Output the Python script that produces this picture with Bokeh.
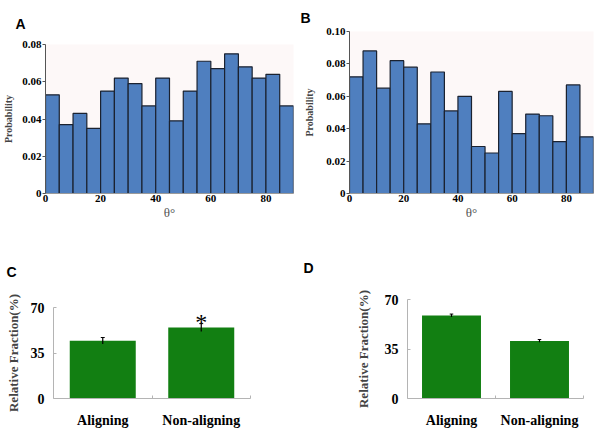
from bokeh.plotting import figure
from bokeh.layouts import column, row
from bokeh.models import Range1d, FixedTicker, Label
from bokeh.embed import file_html
from bokeh.resources import INLINE

# ---------------- data ----------------
bin_left = [0, 5, 10, 15, 20, 25, 30, 35, 40, 45, 50, 55, 60, 65, 70, 75, 80, 85]
bin_width = 5
prob_a = [0.053, 0.037, 0.043, 0.035, 0.055, 0.062, 0.059, 0.047, 0.062,
          0.039, 0.055, 0.071, 0.067, 0.075, 0.068, 0.062, 0.064, 0.047]
prob_b = [0.072, 0.088, 0.065, 0.082, 0.078, 0.043, 0.075, 0.051, 0.060,
          0.029, 0.025, 0.063, 0.037, 0.049, 0.048, 0.032, 0.067, 0.035]
hist_xticks = [0, 20, 40, 60, 80]
yticks_a = [0, 0.02, 0.04, 0.06, 0.08]
yticks_b = [0, 0.02, 0.04, 0.06, 0.08, 0.10]

categories = ["Aligning", "Non-aligning"]
cat_pos = [0.5, 1.5]
frac_c = [44.4, 54.6]
err_c = [2.5, 3.0]
frac_d = [58.7, 40.7]
err_d = [1.0, 1.0]
frac_ticks = [0, 35, 70]

SERIF = "Liberation Serif"
SANS = "Liberation Sans"
BLUE = "#4f7fbf"
GREEN = "#127f12"


def panel_letter(p, text, offset, standoff):
    p.title.text = text
    p.title.align = "left"
    p.title.offset = offset
    p.title.standoff = standoff
    p.title.text_font = SANS
    p.title.text_font_style = "bold"
    p.title.text_font_size = "14px"
    p.title.text_color = "black"


def hist_fig(vals, ymax, yticks, width, height, bl, br, bt, bb, lab_standoff):
    p = figure(width=width, height=height, x_range=Range1d(0, 90), y_range=Range1d(0, ymax),
               output_backend="svg", toolbar_location=None,
               min_border_left=bl, min_border_right=br, min_border_top=bt, min_border_bottom=bb)
    p.quad(left=bin_left, right=[v + bin_width for v in bin_left], bottom=0, top=vals,
           fill_color=BLUE, line_color="#1b2230", line_width=1.2)
    p.grid.visible = False
    p.outline_line_color = None
    p.background_fill_color = "#fdf8f8"
    p.xaxis.ticker = FixedTicker(ticks=hist_xticks)
    p.yaxis.ticker = FixedTicker(ticks=yticks)
    p.yaxis.major_label_overrides = {t: ("0" if t == 0 else f"{t:.2f}") for t in yticks}
    for ax in (p.xaxis, p.yaxis):
        ax.major_label_text_font = SERIF
        ax.major_label_text_font_style = "bold"
        ax.major_label_text_font_size = "11px"
        ax.major_label_text_color = "black"
        ax.minor_tick_line_color = None
    p.xaxis.axis_line_color = "#9a9a9a"
    p.xaxis.major_tick_line_color = None
    p.xaxis.major_tick_out = 0
    p.xaxis.major_label_standoff = 1
    p.xaxis.axis_label = "θ°"
    p.xaxis.axis_label_text_font = SERIF
    p.xaxis.axis_label_text_font_style = "normal"
    p.xaxis.axis_label_text_font_size = "13px"
    p.xaxis.axis_label_text_color = "#555555"
    p.xaxis.axis_label_standoff = 0
    p.yaxis.axis_line_color = "#555555"
    p.yaxis.major_tick_line_color = "#555555"
    p.yaxis.major_tick_out = 3
    p.yaxis.major_tick_in = 0
    p.yaxis.major_label_standoff = 1
    p.yaxis.axis_label = "Probability"
    p.yaxis.axis_label_text_font = SERIF
    p.yaxis.axis_label_text_font_style = "bold"
    p.yaxis.axis_label_text_font_size = "10px"
    p.yaxis.axis_label_standoff = lab_standoff
    return p


def bar_fig(vals, errs, width, height, bl, br, bt, bb, lab_standoff):
    p = figure(width=width, height=height, x_range=Range1d(0, 2), y_range=Range1d(0, 70),
               output_backend="svg", toolbar_location=None,
               min_border_left=bl, min_border_right=br, min_border_top=bt, min_border_bottom=bb)
    p.vbar(x=cat_pos, top=vals, width=0.67, bottom=0, fill_color=GREEN, line_color=None)
    lo = [v - e for v, e in zip(vals, errs)]
    hi = [v + e for v, e in zip(vals, errs)]
    p.segment(x0=cat_pos, x1=cat_pos, y0=lo, y1=hi, line_color="black", line_width=1.2)
    p.segment(x0=[x - 0.02 for x in cat_pos], x1=[x + 0.02 for x in cat_pos], y0=hi, y1=hi,
              line_color="black", line_width=1)
    p.grid.visible = False
    p.outline_line_color = None
    p.xaxis.ticker = FixedTicker(ticks=cat_pos, minor_ticks=[1.0, 2.0])
    p.xaxis.major_label_overrides = {cat_pos[i]: categories[i] for i in range(len(categories))}
    p.yaxis.ticker = FixedTicker(ticks=frac_ticks)
    for ax in (p.xaxis, p.yaxis):
        ax.axis_line_color = "#b4b4b4"
        ax.major_label_text_font = SERIF
        ax.major_label_text_font_style = "bold"
        ax.major_label_text_font_size = "14px"
        ax.major_label_text_color = "black"
    p.xaxis.major_tick_line_color = None
    p.xaxis.minor_tick_line_color = "#b4b4b4"
    p.xaxis.minor_tick_in = 3
    p.xaxis.minor_tick_out = 0
    p.xaxis.major_label_standoff = 8
    p.yaxis.minor_tick_line_color = None
    p.yaxis.major_tick_line_color = "#b4b4b4"
    p.yaxis.major_tick_in = 3
    p.yaxis.major_tick_out = 0
    p.yaxis.major_label_standoff = 9
    p.yaxis.axis_label = "Relative Fraction(%)"
    p.yaxis.axis_label_text_font = SERIF
    p.yaxis.axis_label_text_font_style = "bold"
    p.yaxis.axis_label_text_font_size = "13px"
    p.yaxis.axis_label_standoff = lab_standoff
    return p


TOP_H = 231
BOT_H = 199

pA = hist_fig(prob_a, 0.08, yticks_a, 300, TOP_H, 45, 7, 44, TOP_H - 193, 5)
panel_letter(pA, "A", -30, 25)

pB = hist_fig(prob_b, 0.10, yticks_b, 300, TOP_H, 49, 7, 31, TOP_H - 193, 8)
panel_letter(pB, "B", -49, 11)

pC = bar_fig(frac_c, err_c, 300, BOT_H, 53, 50, 307 - TOP_H, TOP_H + BOT_H - 399, 7)
panel_letter(pC, "C", -47, 56)
pC.add_layout(Label(x=cat_pos[1], y=frac_c[1] + err_c[1] + 11.6, text="*", text_font=SERIF,
                    text_font_size="24px", text_align="center", text_baseline="top",
                    text_color="black"))

pD = bar_fig(frac_d, err_d, 300, BOT_H, 107, 17, 299 - TOP_H, TOP_H + BOT_H - 400, 11)
panel_letter(pD, "D", -104, 48)

layout = column(row(column(pA), column(pB)), row(column(pC), column(pD)))
open("out.html", "w").write(file_html(layout, INLINE))
